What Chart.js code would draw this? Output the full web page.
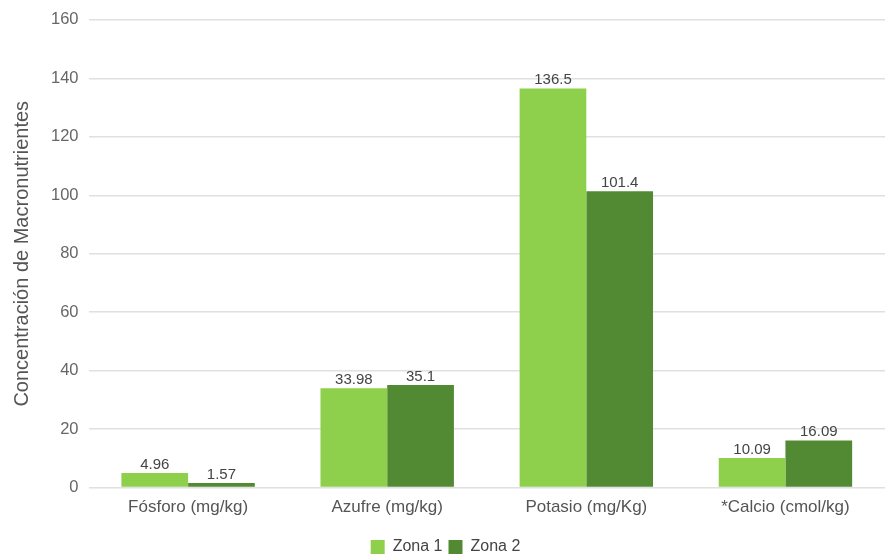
<!DOCTYPE html>
<html>
<head>
<meta charset="utf-8">
<script src="https://cdn.jsdelivr.net/npm/chart.js@4/dist/chart.umd.min.js"></script>
<style>
  body { margin: 0; background: #fff; }
  #wrap { width: 887px; height: 559px; }
</style>
</head>
<body>
<div id="wrap"><canvas id="myChart"></canvas></div>
<script>
// data
var categories = ['Fósforo (mg/kg)', 'Azufre (mg/kg)', 'Potasio (mg/Kg)', '*Calcio (cmol/kg)'];
var zona1 = [4.96, 33.98, 136.5, 10.09];
var zona2 = [1.57, 35.1, 101.4, 16.09];
var zona1Labels = ['4.96', '33.98', '136.5', '10.09'];
var zona2Labels = ['1.57', '35.1', '101.4', '16.09'];

var fontFam = '"Liberation Sans", Arial, sans-serif';

// draw the value on top of each bar
var valueLabels = {
    id: 'valueLabels',
    afterDatasetsDraw: function (chart) {
        var ctx = chart.ctx;
        ctx.save();
        ctx.font = '15px ' + fontFam;
        ctx.fillStyle = '#444';
        ctx.textAlign = 'center';
        ctx.textBaseline = 'bottom';
        chart.data.datasets.forEach(function (ds, i) {
            var meta = chart.getDatasetMeta(i);
            meta.data.forEach(function (bar, j) {
                ctx.fillText(ds.valueText[j], bar.x, bar.y - 1);
            });
        });
        ctx.restore();
    }
};

var ctx = document.getElementById('myChart').getContext('2d');
var chart = new Chart(ctx, {
    type: 'bar',
    data: {
        labels: categories,
        datasets: [{
            label: 'Zona 1',
            data: zona1,
            valueText: zona1Labels,
            backgroundColor: '#8ecf4b'
        }, {
            label: 'Zona 2',
            data: zona2,
            valueText: zona2Labels,
            backgroundColor: '#528a34'
        }]
    },
    plugins: [valueLabels],
    options: {
        responsive: true,
        maintainAspectRatio: false,
        animation: false,
        // negative bottom padding pushes the legend down to the edge
        layout: { padding: { top: 1, right: 2, left: 6, bottom: -6 } },
        datasets: {
            bar: { categoryPercentage: 0.67, barPercentage: 1.0 }
        },
        plugins: {
            legend: {
                position: 'bottom',
                labels: {
                    boxWidth: 14,
                    boxHeight: 14,
                    padding: 6,
                    color: '#444',
                    font: { size: 16, family: fontFam }
                }
            },
            tooltip: { enabled: false }
        },
        scales: {
            x: {
                grid: { display: false },
                border: { display: false },
                ticks: {
                    color: '#555',
                    padding: 2,
                    font: { size: 17, family: fontFam }
                },
                // leave some room between the labels and the legend
                afterFit: function (scale) {
                    scale.height += 13;
                }
            },
            y: {
                min: 0,
                max: 160,
                ticks: {
                    stepSize: 20,
                    color: '#666',
                    padding: 10,
                    font: { size: 16.5, family: fontFam }
                },
                grid: { color: '#e0e0e0', lineWidth: 1.5, drawTicks: false },
                border: { display: false },
                title: {
                    display: true,
                    text: 'Concentración de Macronutrientes',
                    color: '#555',
                    padding: { top: 4, bottom: 7 },
                    font: { size: 20, family: fontFam }
                }
            }
        }
    }
});
</script>
</body>
</html>
